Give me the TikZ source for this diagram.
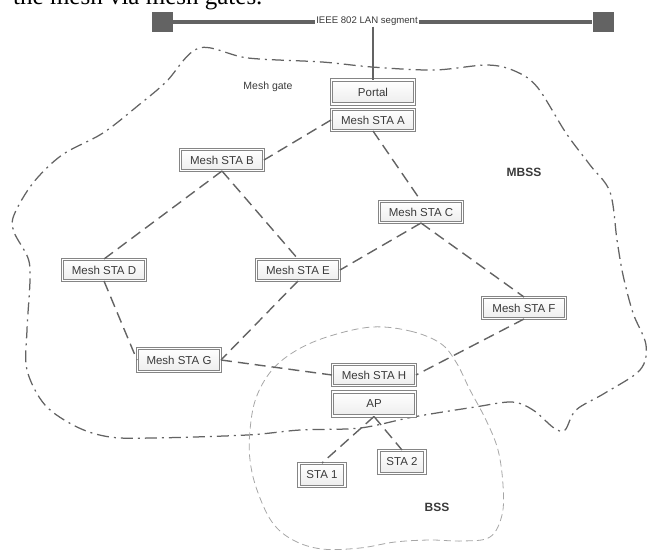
\documentclass[tikz,border=0pt]{standalone}
\usepackage{fontspec}
\setmainfont{Liberation Sans}
\newfontfamily\seriffont{Liberation Serif}
\definecolor{ln}{HTML}{636363}
\definecolor{bx}{HTML}{858585}
\definecolor{tx}{HTML}{3A3A3A}
\begin{document}
\begin{tikzpicture}[x=1pt,y=-1pt,
  box/.style={draw=bx, line width=1pt, double=white, double distance=1.6pt,
    top color=white, bottom color=gray!14, text=tx,
    font=\fontsize{11.5}{13}\selectfont, inner sep=0pt,
    minimum width=83pt, minimum height=21pt},
  sbox/.style={box, minimum width=46pt, minimum height=23pt},
  sq/.style={fill=ln, inner sep=0pt, minimum width=21pt, minimum height=20pt},
  link/.style={draw=ln, line width=1.4pt, dash pattern=on 11pt off 6pt},
  mbss/.style={draw=ln, line width=1.25pt, dash pattern=on 12pt off 5pt on 2pt off 5pt},
  bss/.style={draw=gray!70, line width=0.8pt, dash pattern=on 7pt off 4pt},
  lbl/.style={text=tx, font=\fontsize{9.6}{12}\selectfont},
  big/.style={text=tx, font=\bfseries\fontsize{12}{14}\selectfont},
]
\useasboundingbox (0,0) rectangle (650,550);

% cut-off caption line at the top
\node[anchor=base west, inner sep=0pt, font=\seriffont\fontsize{25}{28}\selectfont] (cap) at (13,4) {the mesh via mesh gates.};

% MBSS boundary
\draw[mbss] plot[smooth cycle, tension=0.55] coordinates {
 (199,48) (248,58) (322,62) (372,67) (434,70) (488,65) (517,72) (538,88)
 (566,133) (590,165) (610,192) (617,240) (623,275) (633,313) (646,345)
 (640,370) (605,393) (576,410) (565,430) (554,428) (533,410) (512,402)
 (475,407) (413,417) (360,428) (300,430) (247,435) (153,438) (110,437)
 (77,427) (45,405) (27,370) (27,330) (30,280) (28,258) (14,232) (14,215)
 (33,183) (62,155) (103,133) (140,104) (166,82)};

% BSS boundary
\draw[bss] plot[smooth cycle, tension=0.6] coordinates {
 (372,327) (410,331) (440,343) (456,362) (470,390) (486,420) (498,450)
 (503,485) (502,515) (490,537) (463,541) (430,540) (395,542) (360,548)
 (322,549) (293,540) (272,522) (257,490) (250,460) (250,430) (256,398)
 (272,370) (297,350) (330,336)};

% LAN segment
\node[sq] (lsq) at (162.5,22) {};
\node[sq] (rsq) at (603,22) {};
\draw[ln, line width=4.5pt] (lsq.east) -- (rsq.west);
\node[lbl, fill=white, inner sep=1pt] (lan) at (367,21) {IEEE 802 LAN segment};

% nodes
\node[box, minimum height=24pt] (portal) at (373,92) {Portal};
\node[box] (a) at (373,120) {Mesh STA A};
\node[box] (b) at (222,160) {Mesh STA B};
\node[box] (c) at (421,212) {Mesh STA C};
\node[box] (d) at (104,270) {Mesh STA D};
\node[box] (e) at (298,270) {Mesh STA E};
\node[box] (f) at (524,308) {Mesh STA F};
\node[box, minimum height=23pt] (g) at (179,360) {Mesh STA G};
\node[box] (h) at (374,375) {Mesh STA H};
\node[box, minimum height=24pt] (ap) at (374,404) {AP};
\node[sbox] (s1) at (322,475) {STA 1};
\node[sbox] (s2) at (402,462) {STA 2};

\node[lbl, font=\fontsize{10.5}{12}\selectfont] (gate) at (268,87) {Mesh gate};
\node[big] (mbsslbl) at (524,172) {MBSS};
\node[big] (bsslbl) at (437,507) {BSS};

\draw[ln, line width=2pt] (portal.north |- lan.south) -- (portal.north);

% mesh links
\draw[link] (a.west) -- (b.east);
\draw[link] (a.south) -- (c.north);
\draw[link] (b.south) -- (d.north);
\draw[link] (b.south) -- (e.north);
\draw[link] (c.south) -- (e.east);
\draw[link] (c.south) -- (f.north);
\draw[link] (d.south) -- (g.west);
\draw[link] (e.south) -- (g.east);
\draw[link] (g.east) -- (h.west);
\draw[link] (f.south) -- (h.east);
\draw[link] (ap.south) -- (s1.north);
\draw[link] (ap.south) -- (s2.north);
\end{tikzpicture}
\end{document}
